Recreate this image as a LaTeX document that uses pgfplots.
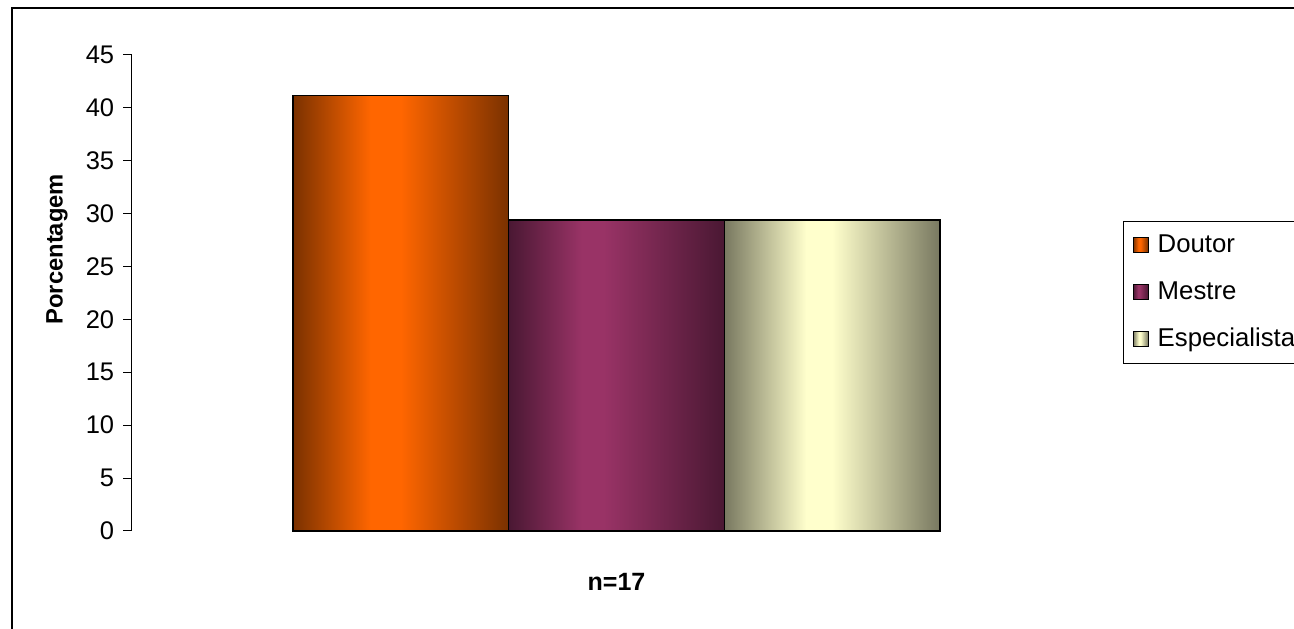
\documentclass[border=0pt]{standalone}
\usepackage{fontspec}
\setmainfont{Liberation Sans}
\usepackage{pgfplots}
\pgfplotsset{compat=1.18}

% bar colours: light centre, dark edges
\definecolor{doutorLt}{RGB}{255,102,0}
\definecolor{doutorDk}{RGB}{122,49,0}
\definecolor{mestreLt}{RGB}{153,51,102}
\definecolor{mestreDk}{RGB}{74,24,51}
\definecolor{especLt}{RGB}{255,255,204}
\definecolor{especDk}{RGB}{120,120,96}

\pgfdeclarehorizontalshading{shDoutor}{100bp}{color(0bp)=(doutorDk); color(25bp)=(doutorDk);
  color(43bp)=(doutorLt); color(50bp)=(doutorLt); color(75bp)=(doutorDk); color(100bp)=(doutorDk)}
\pgfdeclarehorizontalshading{shMestre}{100bp}{color(0bp)=(mestreDk); color(25bp)=(mestreDk);
  color(42bp)=(mestreLt); color(47bp)=(mestreLt); color(75bp)=(mestreDk); color(100bp)=(mestreDk)}
\pgfdeclarehorizontalshading{shEspec}{100bp}{color(0bp)=(especDk); color(25bp)=(especDk);
  color(44bp)=(especLt); color(50bp)=(especLt); color(75bp)=(especDk); color(100bp)=(especDk)}

\begin{document}
\begin{tikzpicture}
\useasboundingbox (0,0) rectangle (517.6pt,251.6pt);
% chart area frame (runs off the right and bottom edges)
\draw[line width=0.5pt] (530pt,248.4pt) -- (4.8pt,248.4pt) -- (4.8pt,-10pt);
\begin{axis}[
    at={(52.8pt,39.2pt)}, anchor=south west,
    width=387.6pt, height=190.4pt, scale only axis,
    clip=false,
    axis x line=none, axis y line*=left,
    axis line style={line width=0.4pt},
    xmin=-1.2465, xmax=3.2465,
    ymin=0, ymax=45,
    ytick distance=5,
    ytick align=outside, major tick length=3.6pt,
    tick style={line width=0.4pt,black},
    /pgf/number format/assume math mode=true,
    yticklabel={\fontsize{10.2}{12}\selectfont\pgfmathprintnumber{\tick}},
    ylabel={\textbf{Porcentagem}},
    ylabel style={at={(axis description cs:-0.0774,0.592)}, anchor=center,
      font=\fontsize{9.5}{11}\selectfont},
    every axis plot/.append style={ybar, bar width=1, bar shift=0pt, draw=black, line width=0.6pt},
    area legend,
    legend style={at={(axis description cs:1.0227,0.651)}, anchor=north west,
      draw=black, line width=0.4pt, inner xsep=3.6pt, inner ysep=5.2pt,
      row sep=10.1pt, font=\fontsize{10.3}{12}\selectfont,
      nodes={inner sep=0pt, anchor=west},
      /tikz/every odd column/.append style={column sep=3.6pt}},
    legend cell align=left,
  ]
\addplot[shading=shDoutor,
  legend image code/.code={\draw[black,line width=0.5pt,fill=doutorLt] (0pt,-3pt) rectangle (6pt,3pt);}]
  coordinates {(0,41.18)};
\addplot[shading=shMestre,
  legend image code/.code={\draw[black,line width=0.5pt,fill=mestreLt] (0pt,-3pt) rectangle (6pt,3pt);}]
  coordinates {(1,29.41)};
\addplot[shading=shEspec,
  legend image code/.code={\draw[black,line width=0.5pt,fill=especLt] (0pt,-3pt) rectangle (6pt,3pt);}]
  coordinates {(2,29.41)};
\legend{Doutor,Mestre,Especialista}
\node[font=\fontsize{10}{12}\selectfont\bfseries] at (axis description cs:0.5,-0.107) {n=17};
\end{axis}
\end{tikzpicture}
\end{document}
